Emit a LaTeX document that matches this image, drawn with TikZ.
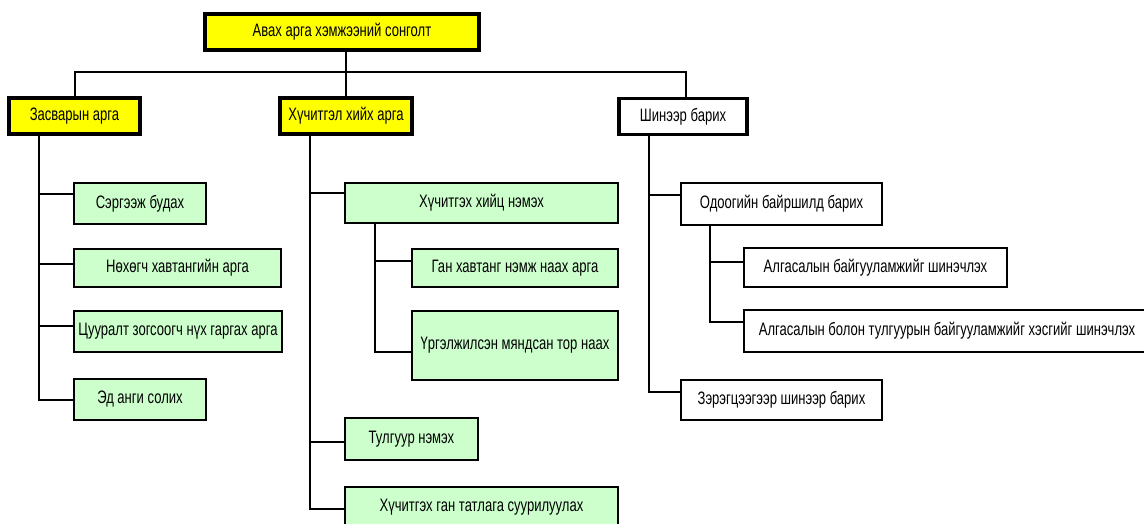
\documentclass[tikz,border=0pt]{standalone}
\usepackage{fontspec}
\setmainfont[FakeStretch=0.725]{Liberation Sans}
\usepackage{tikz}
\definecolor{shar}{RGB}{255,255,0}
\definecolor{nogoon}{RGB}{204,255,204}
\tikzset{font=\fontsize{18}{20}\selectfont}
\tikzstyle{bigbox}=[draw,line width=3.5pt,inner sep=0pt,minimum height=36pt]
\tikzstyle{leaf}=[draw,line width=2pt,inner sep=0pt]
\tikzstyle{conn}=[line width=2pt]

\begin{document}
\begin{tikzpicture}[x=1pt,y=-1pt]
\useasboundingbox (0,0) rectangle (1144,523);
% first level
\node[bigbox,fill=shar,minimum width=274pt] (R) at (342,32) {Авах арга хэмжээний сонголт};
\node[bigbox,fill=shar,minimum width=131pt] (Z) at (74.5,116) {Засварын арга};
\node[bigbox,fill=shar,minimum width=132pt] (H) at (346,116) {Хүчитгэл хийх арга};
\node[bigbox,fill=white,minimum width=128pt] (S) at (683,116.5) {Шинээр барих};
% Засварын арга
\node[leaf,fill=nogoon,minimum width=132pt,minimum height=41pt] (Z1) at (140,203.5) {Сэргээж будах};
\node[leaf,fill=nogoon,minimum width=207pt,minimum height=38pt] (Z2) at (177.5,268) {Нөхөгч хавтангийн арга};
\node[leaf,fill=nogoon,minimum width=208pt,minimum height=41pt] (Z3) at (178,331.5) {Цууралт зогсоогч нүх гаргах арга};
\node[leaf,fill=nogoon,minimum width=132pt,minimum height=41pt] (Z4) at (140,399.5) {Эд анги солих};
% Хүчитгэл хийх арга
\node[leaf,fill=nogoon,minimum width=273pt,minimum height=40pt] (H1) at (481.5,203) {Хүчитгэх хийц нэмэх};
\node[leaf,fill=nogoon,minimum width=206pt,minimum height=38pt] (H11) at (515,268) {Ган хавтанг нэмж наах арга};
\node[leaf,fill=nogoon,minimum width=206pt,minimum height=69pt] (H12) at (515,345.5) {Үргэлжилсэн мяндсан тор наах};
\node[leaf,fill=nogoon,minimum width=133pt,minimum height=42pt] (H2) at (411.5,439) {Тулгуур нэмэх};
\node[leaf,fill=nogoon,minimum width=273pt,minimum height=41pt] (H3) at (481.5,507.5) {Хүчитгэх ган татлага суурилуулах};
% Шинээр барих
\node[leaf,fill=white,minimum width=201pt,minimum height=42pt] (S1) at (781.5,204) {Одоогийн байршилд барих};
\node[leaf,fill=white,minimum width=263pt,minimum height=39pt] (S11) at (875.5,267.5) {Алгасалын байгууламжийг шинэчлэх};
\node[leaf,fill=white,minimum width=406pt,minimum height=42pt] (S12) at (947,331) {Алгасалын болон тулгуурын байгууламжийг хэсгийг шинэчлэх};
\node[leaf,fill=white,minimum width=201pt,minimum height=40pt] (S2) at (781.5,400) {Зэрэгцээгээр шинээр барих};
% connectors
\coordinate (bus) at (346,72);
\draw[conn] (R.south -| bus) -- (H.north -| bus);
\draw[conn] (Z.north) |- (bus) -| ([xshift=3pt]S.north);
\draw[conn] ([xshift=32pt]Z.south west) |- ([yshift=10pt]Z1.west);
\draw[conn] ([xshift=32pt]Z.south west) |- ([yshift=4pt]Z2.west);
\draw[conn] ([xshift=32pt]Z.south west) |- ([yshift=6pt]Z3.west);
\draw[conn] ([xshift=32pt]Z.south west) |- (Z4.west);
\draw[conn] ([xshift=32pt]H.south west) |- ([yshift=10pt]H1.west);
\draw[conn] ([xshift=32pt]H.south west) |- ([yshift=-3pt]H2.west);
\draw[conn] ([xshift=32pt]H.south west) |- ([yshift=-1.5pt]H3.west);
\draw[conn] ([xshift=31pt]H1.south west) |- ([yshift=7pt]H11.west);
\draw[conn] ([xshift=31pt]H1.south west) |- ([yshift=-6.5pt]H12.west);
\draw[conn] ([xshift=32pt]S.south west) |- ([yshift=9pt]S1.west);
\draw[conn] ([xshift=32pt]S.south west) |- ([yshift=8pt]S2.west);
\draw[conn] ([xshift=30pt]S1.south west) |- ([yshift=5.5pt]S11.west);
\draw[conn] ([xshift=30pt]S1.south west) |- ([yshift=9pt]S12.west);
\end{tikzpicture}
\end{document}
